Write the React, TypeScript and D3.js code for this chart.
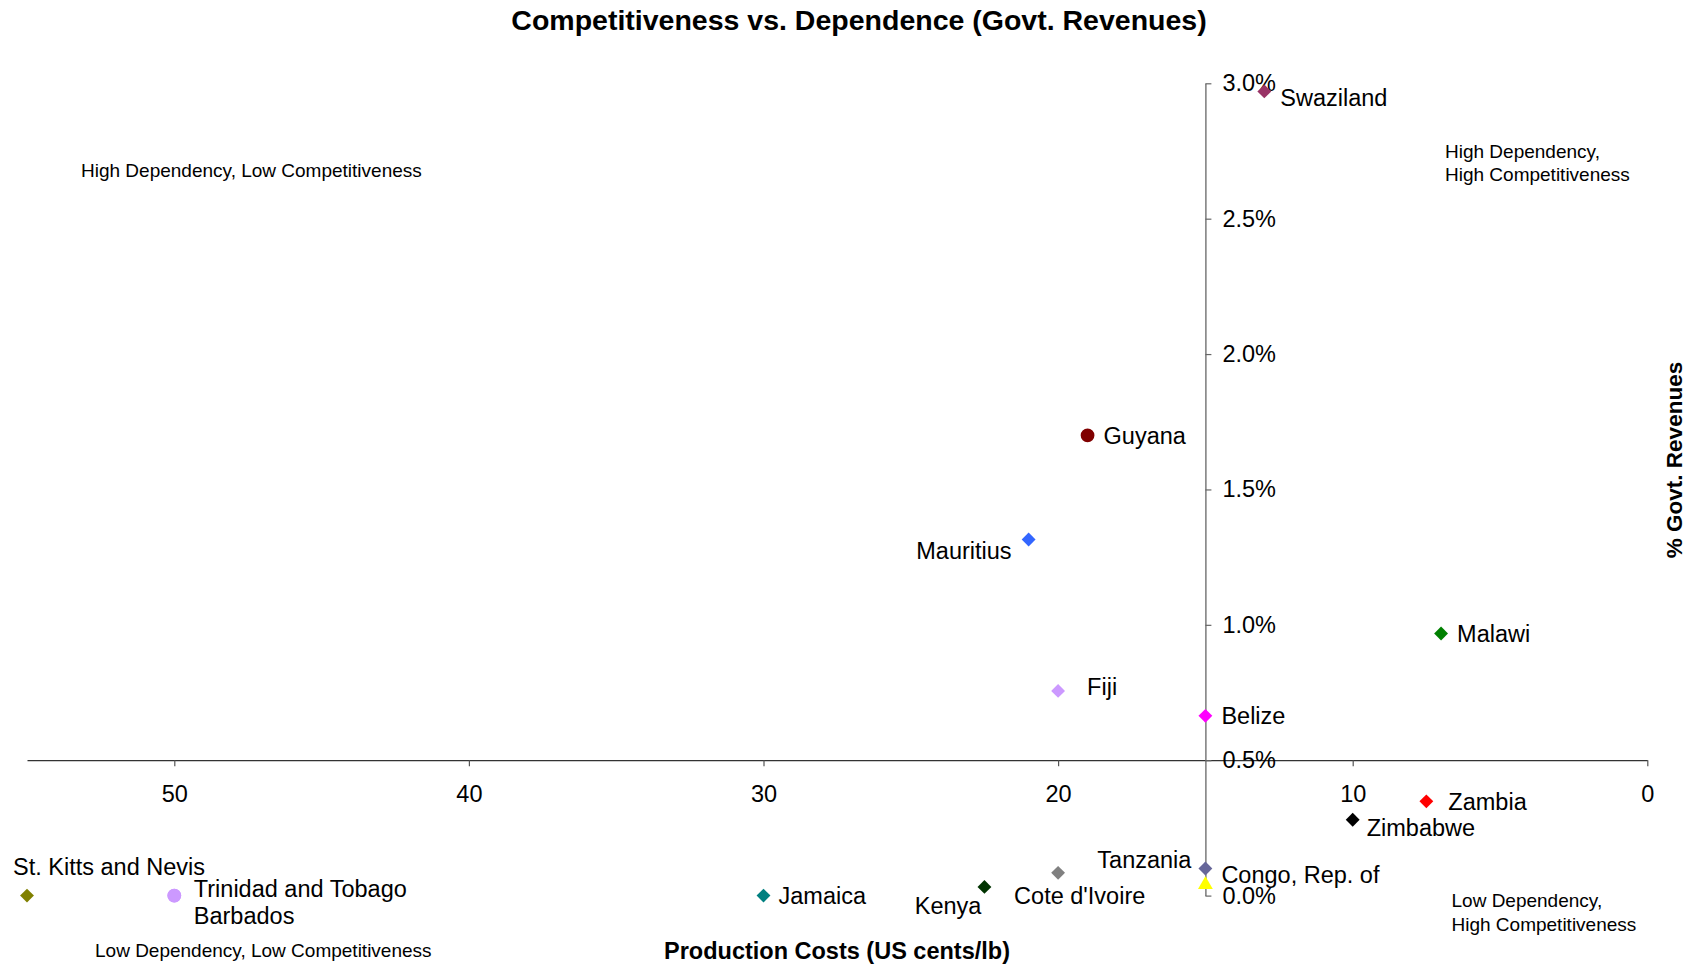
import React, { useEffect, useRef } from "react";
import * as d3 from "d3";

// ---------- data ----------
const countries = [
  "Swaziland", "Guyana", "Mauritius", "Malawi", "Fiji", "Belize", "Zambia",
  "Zimbabwe", "Cote d'Ivoire", "Congo, Rep. of", "Tanzania", "Kenya",
  "Jamaica", "Barbados", "Trinidad and Tobago", "St. Kitts and Nevis",
];
const productionCosts = [13, 19, 21, 7, 20, 15, 7.5, 10, 20, 15, 15, 22.5, 30, 50, 50, 55];
const govtRevenuesPct = [2.97, 1.7, 1.315, 0.968, 0.756, 0.664, 0.348, 0.28, 0.084, 0.1, 0.04, 0.032, 0, 0, 0, 0];

const xTicks = [50, 40, 30, 20, 10, 0];
const yTicks = [0, 0.5, 1, 1.5, 2, 2.5, 3];

const titleText = "Competitiveness vs. Dependence (Govt. Revenues)";
const xTitle = "Production Costs (US cents/lb)";
const yTitle = "% Govt. Revenues";

// ---------- styles ----------
const markerColors = [
  "#993366", "#800000", "#3366FF", "#008000", "#CC99FF", "#FF00FF", "#FF0000",
  "#000000", "#808080", "#666699", "#FFFF00", "#003300", "#008080", "#CC99FF", "#CC99FF", "#808000",
];
const markerShapes = [
  "diamond", "circle", "diamond", "diamond", "diamond", "diamond", "diamond",
  "diamond", "diamond", "diamond", "triangle", "diamond", "diamond", "circle", "circle", "diamond",
];
// label placement: [dx, dy, anchor]
const labelLayout: [number, number, string][] = [
  [16, 6, "start"], [16, 0, "start"], [-17, 11, "end"], [16, 0, "start"],
  [29, -4, "start"], [16, 0, "start"], [22, 0, "start"], [14, 8, "start"],
  [-44, 23, "start"], [16, 6.5, "start"], [-14, -25, "end"], [-3, 18.5, "end"],
  [15, 0, "start"], [19.5, 20.5, "start"], [19.5, -6.5, "start"], [-14, -29, "start"],
];

const FONT = "'Liberation Sans', Arial, Helvetica, sans-serif";
const W = 1696;
const H = 965;

export default function App() {
  const xAxisRef = useRef<SVGGElement>(null);
  const yAxisRef = useRef<SVGGElement>(null);

  const x = d3.scaleLinear().domain([55, 0]).range([27, 1647.3]);
  const y = d3.scaleLinear().domain([0, 3]).range([895.6, 83.3]);

  useEffect(() => {
    if (xAxisRef.current) {
      const g = d3.select(xAxisRef.current);
      g.call(
        d3.axisBottom(x).tickValues(xTicks).tickSize(6).tickSizeOuter(0).tickPadding(19).tickFormat(d3.format("d"))
      );
      g.select(".domain").attr("stroke", "#333").attr("stroke-width", 1.3);
      g.selectAll(".tick line").attr("stroke", "#555").attr("stroke-width", 1.2);
      g.selectAll(".tick text").attr("font-size", 23.5).attr("font-family", FONT).attr("fill", "#000");
    }
    if (yAxisRef.current) {
      const g = d3.select(yAxisRef.current);
      g.call(
        d3.axisRight(y).tickValues(yTicks).tickSize(6).tickSizeOuter(0).tickPadding(11)
          .tickFormat((d: any) => (+d).toFixed(1) + "%")
      );
      g.select(".domain").attr("stroke", "#666").attr("stroke-width", 1.3);
      g.selectAll(".tick line").attr("stroke", "#666").attr("stroke-width", 1.2);
      g.selectAll(".tick text").attr("font-size", 23.5).attr("font-family", FONT).attr("fill", "#000");
    }
  }, []);

  const symFor = (shape: string) => {
    if (shape === "circle") return d3.symbol().type(d3.symbolCircle).size(150)();
    if (shape === "triangle") return d3.symbol().type(d3.symbolTriangle).size(95)();
    return d3.symbol().type(d3.symbolSquare).size(96)();
  };

  return (
    <svg
      width={W}
      height={H}
      style={{ position: "absolute", left: 0, top: 0, background: "#fff" }}
      fontFamily={FONT}
    >
      <rect x={0} y={0} width={W} height={H} fill="#fff" />
      <text x={859} y={29.5} textAnchor="middle" fontSize={28.5} fontWeight="bold">
        {titleText}
      </text>

      <g ref={xAxisRef} transform={`translate(0,${y(0.5)})`} />
      <g ref={yAxisRef} transform={`translate(${x(15)},0)`} />

      {/* quadrant annotations */}
      <g fontSize={19} fill="#000">
        <text x={81} y={176.5}>High Dependency, Low Competitiveness</text>
        <text x={1445} y={157.5}>High Dependency,</text>
        <text x={1445} y={180.5}>High Competitiveness</text>
        <text x={95} y={956.5}>Low Dependency, Low Competitiveness</text>
        <text x={1451.5} y={906.5}>Low Dependency,</text>
        <text x={1451.5} y={930.5}>High Competitiveness</text>
      </g>

      {/* points */}
      {countries.map((c, i) => {
        const px = x(productionCosts[i]);
        const py = y(govtRevenuesPct[i]);
        const shape = markerShapes[i];
        return (
          <path
            key={"m" + c}
            d={symFor(shape) || ""}
            transform={`translate(${px},${py})${shape === "diamond" ? " rotate(45)" : ""}`}
            fill={markerColors[i]}
          />
        );
      })}

      {/* labels */}
      <g fontSize={23.5} fill="#000">
        {countries.map((c, i) => {
          const [dx, dy, anchor] = labelLayout[i];
          return (
            <text
              key={"l" + c}
              x={x(productionCosts[i]) + dx}
              y={y(govtRevenuesPct[i]) + dy}
              dy="0.35em"
              textAnchor={anchor as any}
            >
              {c}
            </text>
          );
        })}
      </g>

      <text x={837} y={958.5} textAnchor="middle" fontSize={23.5} fontWeight="bold">
        {xTitle}
      </text>
      <text
        transform={`translate(1682,460) rotate(-90)`}
        textAnchor="middle"
        fontSize={22.5}
        fontWeight="bold"
      >
        {yTitle}
      </text>
    </svg>
  );
}
